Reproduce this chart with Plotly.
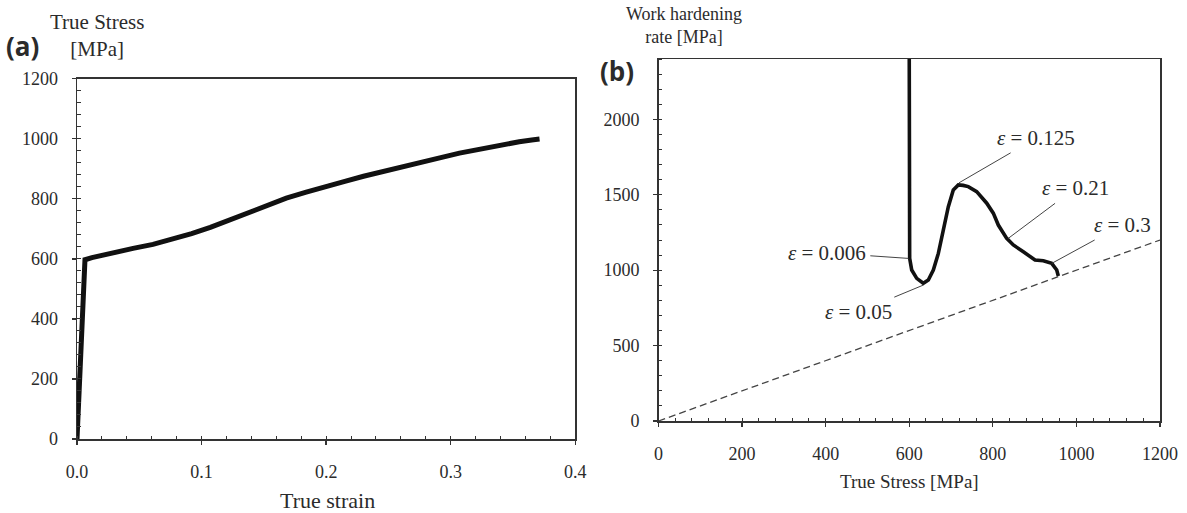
import plotly.graph_objects as go

# ---------------- data ----------------
# (a) true stress - true strain curve
strain_a = [0, 0.0064, 0.012, 0.03, 0.045, 0.061, 0.075, 0.092, 0.107,
            0.1225, 0.138, 0.153, 0.168, 0.184, 0.199, 0.215, 0.23, 0.245, 0.26,
            0.276, 0.292, 0.307, 0.323, 0.34, 0.355, 0.365, 0.3713]
stress_a = [0, 597, 604, 622, 635, 648, 664, 684, 705,
            730, 756, 780, 802, 822, 841, 858, 875, 891, 906,
            922, 937, 952, 966, 980, 990, 996, 999]

# (b) work hardening rate vs true stress
stress_b = [600, 601, 605.9, 617.9, 633.6, 645.6, 657.6, 669.6, 681.5, 693.5,
            705.4, 717.4, 729, 741.3, 761.4, 785.4, 801.1, 813.1, 833.2, 849,
            873, 901, 920.8, 940.9, 952.9, 956.7]
whr_b = [2400, 1078, 1001, 946, 913, 935, 1001, 1111, 1266, 1421,
         1532, 1565, 1562, 1554, 1521, 1444, 1378, 1299, 1211, 1167,
         1122, 1067, 1062, 1045, 1001, 961]

# Considere line (theta = sigma)
cons_x = [0, 1200]
cons_y = [0, 1200]

# strain labels on (b)
eps_text = ["<i>ε</i> = 0.006", "<i>ε</i> = 0.05", "<i>ε</i> = 0.125",
            "<i>ε</i> = 0.21", "<i>ε</i> = 0.3"]
eps_x = [598, 633.6, 719, 837, 941]
eps_y = [1078, 901, 1579, 1211, 1045]
eps_ax = [-81.6, -64.3, 77.5, 67.2, 70.3]
eps_ay = [-5.6, 26.7, -45, -50.3, -38.3]

# ---------------- style ----------------
FONT = "Liberation Serif, Times New Roman, serif"
TXT = "#2b2b2b"
LINE = "#333333"
W, H = 1187, 513


def px_x(p):
    return p / W


def px_y(p):
    return 1 - p / H


dom_a_x = [px_x(77), px_x(575.3)]
dom_a_y = [px_y(439), px_y(78.7)]
dom_b_x = [px_x(658.5), px_x(1160)]
dom_b_y = [px_y(421), px_y(59)]

fig = go.Figure()

fig.add_trace(go.Scatter(x=strain_a, y=stress_a, mode="lines",
                         line=dict(color="#111111", width=5),
                         xaxis="x", yaxis="y", hoverinfo="skip"))
fig.add_trace(go.Scatter(x=cons_x, y=cons_y, mode="lines",
                         line=dict(color="#444444", width=1.3, dash="7px,4px"),
                         xaxis="x2", yaxis="y2", hoverinfo="skip"))
fig.add_trace(go.Scatter(x=stress_b, y=whr_b, mode="lines",
                         line=dict(color="#111111", width=3.6),
                         xaxis="x2", yaxis="y2", hoverinfo="skip"))


def main_axis(domain, rng, dtick, minor_dtick, anchor, fmt=None, standoff=10):
    d = dict(domain=domain, range=rng, anchor=anchor, showline=True,
             linecolor=LINE, linewidth=1.5, mirror=True, ticks="outside",
             ticklen=4, tickwidth=1.3, tickcolor=LINE, tick0=0, dtick=dtick,
             minor=dict(ticks="inside", ticklen=3.5, tickwidth=1,
                        tickcolor=LINE, dtick=minor_dtick, tick0=0),
             showgrid=False, zeroline=False, automargin=False,
             tickfont=dict(family=FONT, size=18, color=TXT),
             ticklabelstandoff=standoff)
    if fmt:
        d["tickformat"] = fmt
    return d


def overlay_axis(over, rng, dtick, anchor, side, ticklen):
    return dict(overlaying=over, range=rng, anchor=anchor, side=side,
                ticks="inside", ticklen=ticklen, tickwidth=1.3, tickcolor=LINE,
                tick0=0, dtick=dtick, showticklabels=False, showline=False,
                showgrid=False, zeroline=False, automargin=False)


layout = dict(
    width=W, height=H, margin=dict(l=0, r=0, t=0, b=0, autoexpand=False),
    paper_bgcolor="white", plot_bgcolor="white", showlegend=False,
    # panel (a)
    xaxis=main_axis(dom_a_x, [0, 0.4], 0.1, 0.02, "y", ".1f", 12),
    yaxis=main_axis(dom_a_y, [0, 1200], 200, 40, "x", None, 10),
    xaxis3=overlay_axis("x", [0, 0.4], 0.1, "y", "bottom", 5),
    xaxis5=overlay_axis("x", [0, 0.4], 0.1, "y", "top", 6),
    yaxis3=overlay_axis("y", [0, 1200], 200, "x", "left", 5),
    yaxis5=overlay_axis("y", [0, 1200], 200, "x", "right", 6),
    # panel (b)
    xaxis2=main_axis(dom_b_x, [0, 1200], 200, 40, "y2", None, 12),
    yaxis2=main_axis(dom_b_y, [0, 2400], 500, 100, "x2", None, 10),
    xaxis4=overlay_axis("x2", [0, 1200], 200, "y2", "bottom", 5),
    xaxis6=overlay_axis("x2", [0, 1200], 200, "y2", "top", 6),
    yaxis4=overlay_axis("y2", [0, 2400], 500, "x2", "left", 5),
    yaxis6=overlay_axis("y2", [0, 2400], 500, "x2", "right", 6),
)
fig.update_layout(**layout)

annotations = []


def paper_text(text, xpx, ypx, size, family=FONT, bold=False):
    t = f"<b>{text}</b>" if bold else text
    annotations.append(dict(text=t, x=px_x(xpx), y=px_y(ypx), xref="paper",
                            yref="paper", xanchor="center", yanchor="middle",
                            showarrow=False,
                            font=dict(family=family, size=size, color=TXT)))


paper_text("True Stress<br>[MPa]", 97, 35.5, 21)
paper_text("True strain", 327, 500, 22)
paper_text("Work hardening<br>rate [MPa]", 684, 25.5, 18)
paper_text("True Stress [MPa]", 909, 481.7, 19)
paper_text("(a)", 22, 46, 26, family="Open Sans, Noto Sans, sans-serif", bold=True)
paper_text("(b)", 617, 71, 26, family="Open Sans, Noto Sans, sans-serif", bold=True)

for t, x, y, ax, ay in zip(eps_text, eps_x, eps_y, eps_ax, eps_ay):
    annotations.append(dict(text=t, x=x, y=y, xref="x2", yref="y2",
                            ax=ax, ay=ay, axref="pixel", ayref="pixel",
                            showarrow=True, arrowhead=0, arrowwidth=1,
                            arrowcolor="#444444", standoff=0, startstandoff=3,
                            font=dict(family=FONT, size=21, color=TXT)))

fig.update_layout(annotations=annotations)

fig.write_html(
    "out.html",
    config={"displayModeBar": False, "staticPlot": True},
    post_script="document.body.style.margin='0';document.body.style.overflow='hidden';",
)
